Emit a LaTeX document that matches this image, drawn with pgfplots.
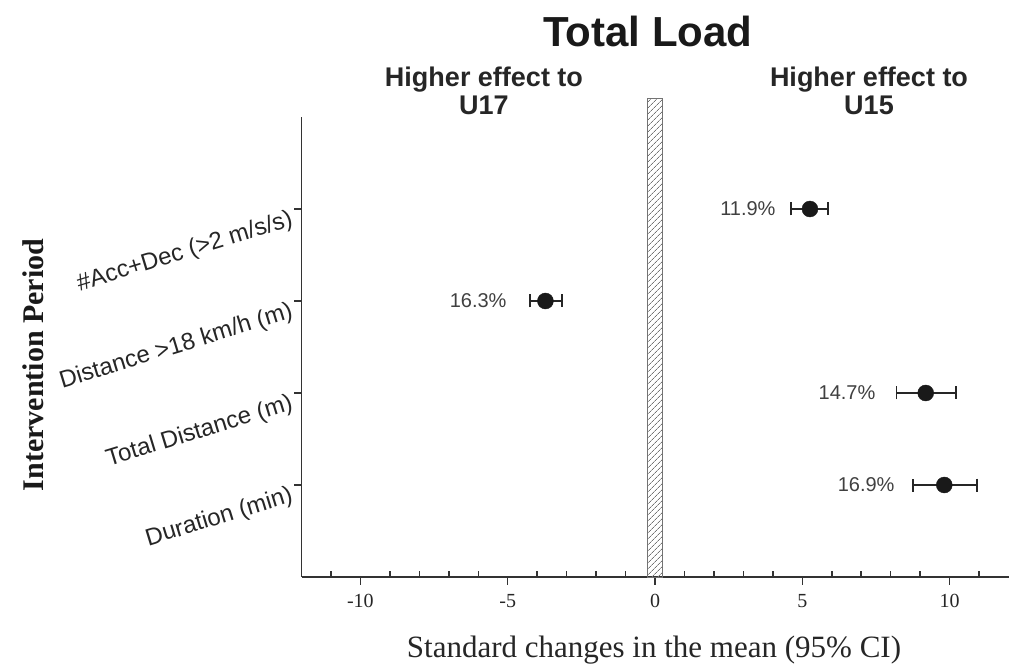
\documentclass[border=0pt]{standalone}
\usepackage{fontspec}
\setmainfont{Liberation Serif}
\newfontfamily\arial{Liberation Sans}
\usepackage{pgfplots}
\usepackage{pgfplotstable}
\pgfplotsset{compat=1.18}
\usetikzlibrary{patterns.meta}

\pgfplotstableread{
y x em ep
1 9.82 1.05 1.10
2 9.19 0.99 1.02
3 -3.72 0.52 0.55
4 5.26 0.64 0.62
}\effects

\begin{document}
\begin{tikzpicture}
\useasboundingbox (0pt,0pt) rectangle (1009pt,664pt);
\begin{axis}[
  at={(301.5pt,87pt)}, anchor=south west,
  scale only axis, width=707pt, height=460pt,
  xmin=-12, xmax=12, ymin=0, ymax=5,
  clip=false,
  axis x line=bottom, axis y line=left,
  axis line style={-, line width=1.8pt, black!80},
  xtick={-10,-5,0,5,10},
  minor xtick={-11,-9,-8,-7,-6,-4,-3,-2,-1,1,2,3,4,6,7,8,9,11},
  ytick={1,2,3,4},
  yticklabels={Duration (min), Total Distance (m), Distance >18 km/h (m), \#Acc+Dec (>2 m/s/s)},
  tick align=inside,
  major tick length=-8pt,
  minor tick length=6pt,
  tick style={line width=1.5pt, black!80},
  /pgf/number format/assume math mode=true,
  xticklabel style={font=\fontsize{20}{20}\selectfont, text=black!85, inner sep=0pt, anchor=north, yshift=-17pt},
  yticklabel style={font=\arial\fontsize{24}{24}\selectfont, text=black!85, rotate=17, anchor=north east, inner sep=0pt, xshift=-12pt, yshift=4pt},
]
\addplot[draw=black!55, line width=1pt, pattern={Lines[angle=45,distance=4pt,line width=0.7pt]}, pattern color=black!55, forget plot]
  coordinates {(-0.25,0) (-0.25,5.2) (0.25,5.2) (0.25,0)} -- cycle;
\addplot[only marks, mark=*, mark size=8pt, black!90, mark options={fill=black!90},
  error bars/.cd, x dir=both, x explicit, error mark=|,
  error bar style={line width=1.8pt, black!85},
  error mark options={mark size=6.5pt, line width=1.8pt, black!85}]
  table[x=x, y=y, x error minus=em, x error plus=ep] {\effects};
\node[anchor=east, font=\arial\fontsize{20}{20}\selectfont, text=black!75] at (axis cs:4.21,4) {11.9\%};
\node[anchor=east, font=\arial\fontsize{20}{20}\selectfont, text=black!75] at (axis cs:-4.92,3) {16.3\%};
\node[anchor=east, font=\arial\fontsize{20}{20}\selectfont, text=black!75] at (axis cs:7.60,2) {14.7\%};
\node[anchor=east, font=\arial\fontsize{20}{20}\selectfont, text=black!75] at (axis cs:8.25,1) {16.9\%};
\end{axis}
\node[font=\arial\bfseries\fontsize{42}{42}\selectfont, anchor=base, text=black!90] at (648pt,617pt) {Total Load};
\node[font=\arial\bfseries\fontsize{27}{27}\selectfont, anchor=base, text=black!85] at (484pt,577pt) {Higher effect to};
\node[font=\arial\bfseries\fontsize{27}{27}\selectfont, anchor=base, text=black!85] at (484pt,549pt) {U17};
\node[font=\arial\bfseries\fontsize{27}{27}\selectfont, anchor=base, text=black!85] at (869pt,577pt) {Higher effect to};
\node[font=\arial\bfseries\fontsize{27}{27}\selectfont, anchor=base, text=black!85] at (869pt,549pt) {U15};
\node[font=\fontsize{31}{31}\selectfont, anchor=base, text=black!85] at (654pt,7pt) {Standard changes in the mean (95\% CI)};
\node[font=\bfseries\fontsize{30}{30}\selectfont, anchor=base, rotate=90, text=black!90] at (43pt,299pt) {Intervention Period};
\end{tikzpicture}
\end{document}
